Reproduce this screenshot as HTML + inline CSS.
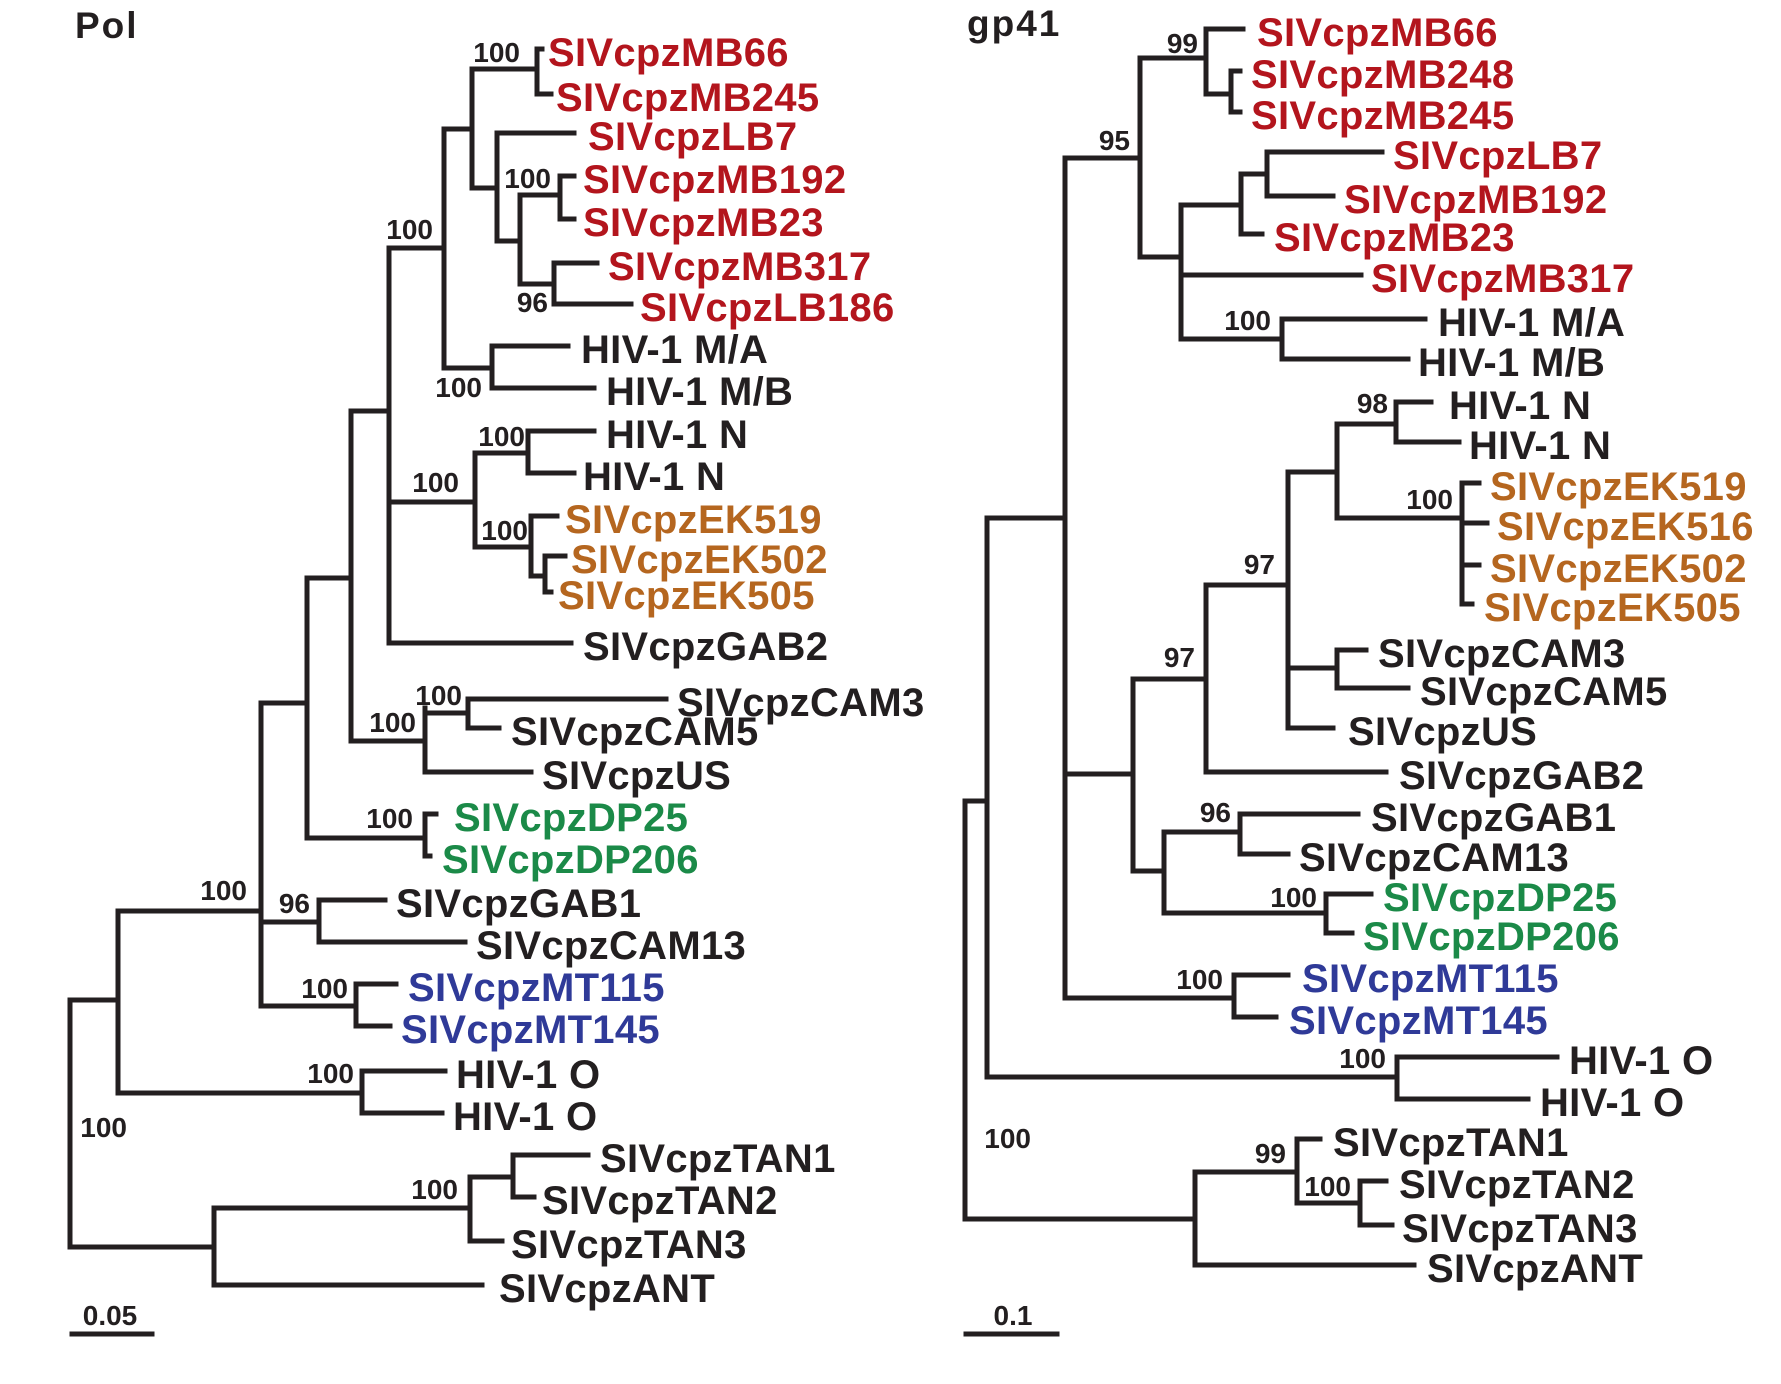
<!DOCTYPE html>
<html><head><meta charset="utf-8"><style>
html,body{margin:0;padding:0;background:#fff;}
svg{display:block;}
.l{font-family:"Liberation Sans",Arial,sans-serif;font-weight:bold;font-size:40px;letter-spacing:0.3px;fill:#231f20;}
.r{fill:#b3151d;} .o{fill:#b5661f;} .g{fill:#1b8a48;} .b{fill:#2f3a98;}
.n{font-family:"Liberation Sans",Arial,sans-serif;font-weight:bold;font-size:28px;fill:#231f20;text-anchor:end;}
.t{font-family:"Liberation Sans",Arial,sans-serif;font-weight:bold;font-size:37px;letter-spacing:2px;fill:#231f20;}
path{stroke:#231f20;stroke-width:5;fill:none;stroke-linecap:square;}
</style></head><body>
<svg width="1781" height="1384" viewBox="0 0 1781 1384" xmlns="http://www.w3.org/2000/svg">
<text class="t" x="75" y="38">Pol</text>
<text class="t" x="967" y="36">gp41</text>
<path d="
M537 49V94 M537 49H542 M537 94H551
M472 69H537 M472 69V188 M472 188H497
M497 133V241 M497 133H574 M497 241H520
M520 195V284 M520 195H560 M520 284H554
M560 176V219 M560 176H574 M560 219H574
M554 263V304 M554 263H597 M554 304H631
M444 129V368 M444 129H472 M444 368H492
M492 346V388 M492 346H568 M492 388H594
M389 248V643 M389 248H444 M389 502H475 M389 643H571
M475 453V547 M475 453H528 M475 547H531
M528 431V473 M528 431H594 M528 473H574
M531 516V576 M531 516H557 M531 576H545
M545 556V592 M545 556H565 M545 592H551
M351 411V741 M351 411H389 M351 741H425
M425 708V772 M425 713H468 M425 772H531
M468 699V728 M468 699H666 M468 728H499
M307 578V838 M307 578H351 M307 838H425
M261 703H307
M425 814V856 M425 814H436 M425 856H430
M261 703V1006 M261 922H319 M261 1006H356
M319 900V942 M319 900H385 M319 942H465
M356 984V1026 M356 984H396 M356 1026H390
M118 911V1093 M118 911H261 M118 1093H362
M362 1071V1113 M362 1071H445 M362 1113H442
M70 1000V1247 M70 1000H118 M70 1247H214
M214 1208V1285 M214 1208H470 M214 1285H482
M470 1177V1241 M470 1177H513 M470 1241H502
M513 1155V1197 M513 1155H588 M513 1197H534
M72 1334H152
"/>
<path d="
M1206 29V94 M1206 29H1243 M1206 94H1231
M1231 71V112 M1231 71H1240 M1231 112H1240
M1140 58V257 M1140 58H1206 M1140 257H1181
M1181 205V339 M1181 205H1241 M1181 275H1361 M1181 339H1282
M1241 174V234 M1241 174H1267 M1241 234H1262
M1267 152V196 M1267 152H1382 M1267 196H1333
M1282 319V359 M1282 319H1425 M1282 359H1408
M1065 158V998 M1065 158H1140 M1065 774H1133 M1065 998H1234
M1288 472V728 M1206 585H1288 M1288 472H1337 M1288 668H1337 M1288 728H1333
M1206 585V772 M1206 772H1386 M1133 679H1206
M1133 679V871 M1133 871H1164
M1337 424V518 M1337 424H1396 M1337 518H1462
M1396 402V442 M1396 402H1431 M1396 442H1459
M1462 483V604 M1462 483H1479 M1462 523H1487 M1462 565H1479 M1462 604H1472
M1337 650V688 M1337 650H1366 M1337 688H1408
M1164 832V913 M1164 832H1240 M1164 913H1326
M1240 814V854 M1240 814H1358 M1240 854H1288
M1326 894V933 M1326 894H1371 M1326 933H1352
M1234 975V1017 M1234 975H1288 M1234 1017H1276
M987 518V1077 M987 518H1065 M987 1077H1397
M1397 1057V1099 M1397 1057H1557 M1397 1099H1528
M965 801V1219 M965 801H987 M965 1219H1195
M1195 1172V1265 M1195 1172H1297 M1195 1265H1414
M1297 1139V1203 M1297 1139H1320 M1297 1203H1360
M1360 1181V1225 M1360 1181H1386 M1360 1225H1392
M966 1334H1057
"/>
<g class="l" transform="translate(0,2)">
<text class="l r" x="548" y="64">SIVcpzMB66</text>
<text class="l r" x="556" y="109">SIVcpzMB245</text>
<text class="l r" x="588" y="148">SIVcpzLB7</text>
<text class="l r" x="583" y="191">SIVcpzMB192</text>
<text class="l r" x="583" y="234">SIVcpzMB23</text>
<text class="l r" x="608" y="278">SIVcpzMB317</text>
<text class="l r" x="640" y="319">SIVcpzLB186</text>
<text class="l" x="581" y="361">HIV-1 M/A</text>
<text class="l" x="606" y="403">HIV-1 M/B</text>
<text class="l" x="606" y="446">HIV-1 N</text>
<text class="l" x="583" y="488">HIV-1 N</text>
<text class="l o" x="565" y="531">SIVcpzEK519</text>
<text class="l o" x="571" y="571">SIVcpzEK502</text>
<text class="l o" x="558" y="607">SIVcpzEK505</text>
<text class="l" x="583" y="658">SIVcpzGAB2</text>
<text class="l" x="677" y="714">SIVcpzCAM3</text>
<text class="l" x="511" y="743">SIVcpzCAM5</text>
<text class="l" x="542" y="787">SIVcpzUS</text>
<text class="l g" x="454" y="829">SIVcpzDP25</text>
<text class="l g" x="442" y="871">SIVcpzDP206</text>
<text class="l" x="396" y="915">SIVcpzGAB1</text>
<text class="l" x="476" y="957">SIVcpzCAM13</text>
<text class="l b" x="408" y="999">SIVcpzMT115</text>
<text class="l b" x="401" y="1041">SIVcpzMT145</text>
<text class="l" x="456" y="1086">HIV-1 O</text>
<text class="l" x="453" y="1128">HIV-1 O</text>
<text class="l" x="600" y="1170">SIVcpzTAN1</text>
<text class="l" x="542" y="1212">SIVcpzTAN2</text>
<text class="l" x="511" y="1256">SIVcpzTAN3</text>
<text class="l" x="499" y="1300">SIVcpzANT</text>

<text class="l r" x="1257" y="44">SIVcpzMB66</text>
<text class="l r" x="1251" y="86">SIVcpzMB248</text>
<text class="l r" x="1251" y="127">SIVcpzMB245</text>
<text class="l r" x="1393" y="167">SIVcpzLB7</text>
<text class="l r" x="1344" y="211">SIVcpzMB192</text>
<text class="l r" x="1274" y="249">SIVcpzMB23</text>
<text class="l r" x="1371" y="290">SIVcpzMB317</text>
<text class="l" x="1438" y="334">HIV-1 M/A</text>
<text class="l" x="1418" y="374">HIV-1 M/B</text>
<text class="l" x="1449" y="417">HIV-1 N</text>
<text class="l" x="1469" y="457">HIV-1 N</text>
<text class="l o" x="1490" y="498">SIVcpzEK519</text>
<text class="l o" x="1497" y="538">SIVcpzEK516</text>
<text class="l o" x="1490" y="580">SIVcpzEK502</text>
<text class="l o" x="1484" y="619">SIVcpzEK505</text>
<text class="l" x="1378" y="665">SIVcpzCAM3</text>
<text class="l" x="1420" y="703">SIVcpzCAM5</text>
<text class="l" x="1348" y="743">SIVcpzUS</text>
<text class="l" x="1399" y="787">SIVcpzGAB2</text>
<text class="l" x="1371" y="829">SIVcpzGAB1</text>
<text class="l" x="1299" y="869">SIVcpzCAM13</text>
<text class="l g" x="1383" y="909">SIVcpzDP25</text>
<text class="l g" x="1363" y="948">SIVcpzDP206</text>
<text class="l b" x="1302" y="990">SIVcpzMT115</text>
<text class="l b" x="1289" y="1032">SIVcpzMT145</text>
<text class="l" x="1569" y="1072">HIV-1 O</text>
<text class="l" x="1540" y="1114">HIV-1 O</text>
<text class="l" x="1333" y="1154">SIVcpzTAN1</text>
<text class="l" x="1399" y="1196">SIVcpzTAN2</text>
<text class="l" x="1402" y="1240">SIVcpzTAN3</text>
<text class="l" x="1427" y="1280">SIVcpzANT</text>
</g>
<g>
<text class="n" x="520" y="62">100</text>
<text class="n" x="551" y="188">100</text>
<text class="n" x="548" y="312">96</text>
<text class="n" x="482" y="397">100</text>
<text class="n" x="433" y="239">100</text>
<text class="n" x="525" y="446">100</text>
<text class="n" x="459" y="492">100</text>
<text class="n" x="528" y="540">100</text>
<text class="n" x="462" y="705">100</text>
<text class="n" x="416" y="732">100</text>
<text class="n" x="413" y="828">100</text>
<text class="n" x="247" y="900">100</text>
<text class="n" x="310" y="913">96</text>
<text class="n" x="348" y="998">100</text>
<text class="n" x="354" y="1083">100</text>
<text class="n" x="127" y="1137">100</text>
<text class="n" x="458" y="1199">100</text>
<text class="n" x="110" y="1325" style="text-anchor:middle">0.05</text>

<text class="n" x="1198" y="53">99</text>
<text class="n" x="1130" y="150">95</text>
<text class="n" x="1271" y="330">100</text>
<text class="n" x="1388" y="413">98</text>
<text class="n" x="1453" y="509">100</text>
<text class="n" x="1275" y="574">97</text>
<text class="n" x="1195" y="667">97</text>
<text class="n" x="1231" y="822">96</text>
<text class="n" x="1317" y="907">100</text>
<text class="n" x="1223" y="989">100</text>
<text class="n" x="1386" y="1068">100</text>
<text class="n" x="1031" y="1148">100</text>
<text class="n" x="1286" y="1163">99</text>
<text class="n" x="1351" y="1196">100</text>
<text class="n" x="1013" y="1325" style="text-anchor:middle">0.1</text>
</g>
</svg>
</body></html>
